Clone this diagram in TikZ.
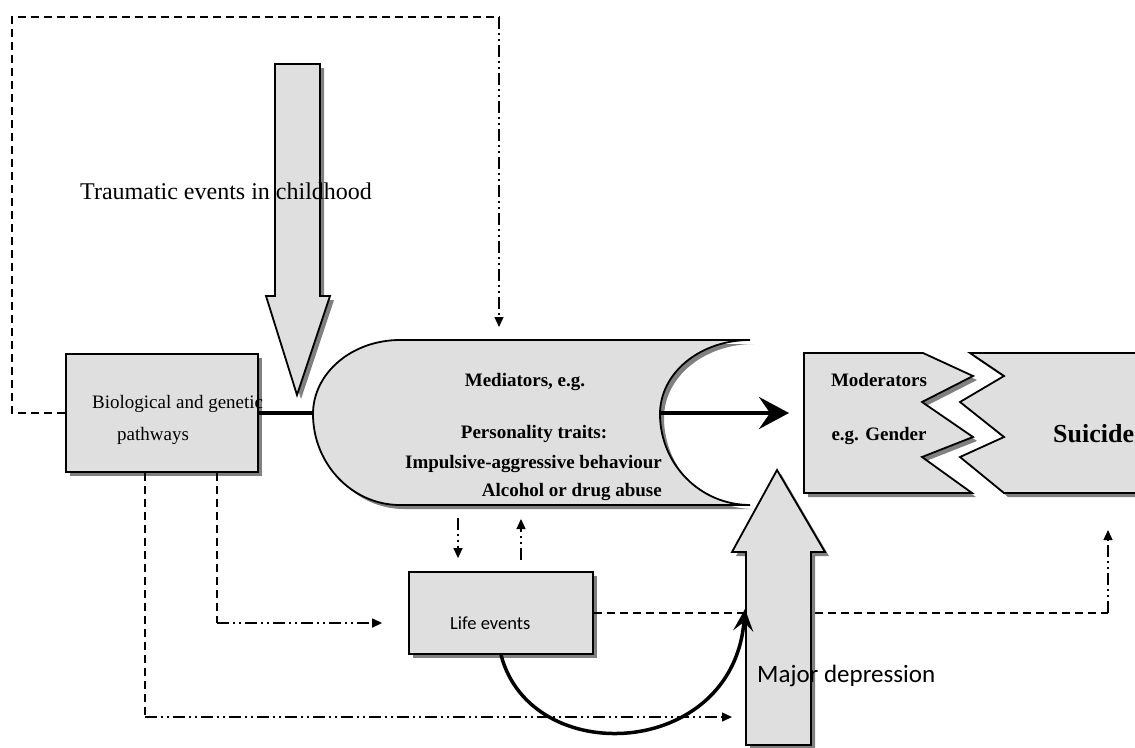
\documentclass[tikz,border=0pt]{standalone}
\usepackage{fontspec}
\setmainfont{Liberation Serif}
\newfontfamily\calibri{Carlito}
\usepackage{tikz}
\usetikzlibrary{arrows.meta}
\usetikzlibrary{shadows}

\begin{document}
\begin{tikzpicture}[x=1pt,y=-1pt,
    solid3d/.style={draw,line width=1.8pt,fill=gray!25,
      drop shadow={shadow xshift=4pt,shadow yshift=-4pt,fill=gray,opacity=1}},
    box/.style={solid3d,inner sep=0pt},
    dashline/.style={line width=1.3pt,dash pattern=on 8pt off 5pt},
    dotline/.style={line width=1.3pt,dash pattern=on 12pt off 4pt on 2pt off 4pt on 2pt off 4pt,
      -{Triangle[length=10pt,width=9pt]}},
    txt/.style={inner sep=0pt,font=\fontsize{19}{22}\selectfont},
    btxt/.style={inner sep=0pt,font=\fontsize{19}{22}\selectfont\bfseries}]
    \useasboundingbox (0,0) rectangle (1135,747);

    \node[box,minimum width=192pt,minimum height=118pt] (bio) at (162,413) {};
    \node[box,minimum width=184pt,minimum height=82pt] (life) at (501,613) {};

    \coordinate (loopL) at (12,17);
    \coordinate (loopR) at (499,17);
    \coordinate (medtop) at (499,327);
    \coordinate (medlft) at (313,413);
    \coordinate (medrgt) at (660,413);
    \coordinate (medL) at (458,505);
    \coordinate (medR) at (521,505);
    \coordinate (modin) at (789,413);
    \coordinate (drop1) at (145,717);
    \coordinate (drop2) at (217,623);
    \coordinate (mdleft) at (732,717);
    \coordinate (mdhit) at (745,609);
    \coordinate (turnR) at (1108,613);
    \coordinate (suiin) at (1108,530);

    \draw[dashline] (bio.west) -| (loopL) -- (loopR);
    \draw[dotline] (loopR) -- (medtop);
    \draw[dashline] (bio.south -| drop1) -- (drop1);
    \draw[dotline] (drop1) -- (mdleft);
    \draw[dashline] (bio.south -| drop2) -- (drop2);
    \draw[dotline,shorten >=26pt] (drop2) -- (drop2 -| life.west);
    \draw[dotline,shorten <=13pt,shorten >=13pt] (medL) -- (medL |- life.north);
    \draw[dotline,shorten <=11pt,shorten >=14pt] (medR |- life.north) -- (medR);
    \draw[dashline] (life.east) -- (turnR);
    \draw[dotline] (turnR) -- (suiin);

    \path[solid3d] (275,64) -- (320,64) -- (320,296) -- (330,296) -- (297,395)
      -- (266,296) -- (275,296) -- cycle;
    \path[solid3d] (400,340) -- (750,340)
      .. controls (700,340) and (660,373) .. (660,414)
      .. controls (660,464) and (700,505) .. (750,505) -- (400,505)
      .. controls (352,505) and (313,464) .. (313,414)
      .. controls (313,373) and (352,340) .. (400,340) -- cycle;
    \path[solid3d] (804,353) -- (923,353) -- (973,376) -- (922,402) -- (973,437)
      -- (922,457) -- (972,493) -- (804,493) -- cycle;
    \path[solid3d] (970,353) -- (1150,353) -- (1150,493) -- (1004,493) -- (960,457)
      -- (1004,437) -- (960,402) -- (1004,376) -- cycle;
    \path[solid3d] (746,745) -- (746,552) -- (732,552) -- (777,470) -- (825,552)
      -- (811,552) -- (811,745) -- cycle;

    \draw[line width=4pt] (bio.east) -- (medlft);
    \draw[line width=4pt,-{Stealth[length=30pt,width=32pt,inset=11pt]}] (medrgt) -- (modin);

    \node[txt,anchor=base west,font=\fontsize{24}{28}\selectfont] (trauma) at (80,199) {Traumatic events in childhood};
    \node[txt,anchor=base west] (bio1) at (92,408) {Biological and genetic};
    \node[txt,anchor=base west] (bio2) at (117,440) {pathways};
    \node[btxt,anchor=base] (med1) at (525,386) {Mediators, e.g.};
    \node[btxt,anchor=base] (med2) at (534,438) {Personality traits:};
    \node[btxt,anchor=base east] (med3) at (662,468) {Impulsive-aggressive behaviour};
    \node[btxt,anchor=base east] (med4) at (662,496) {Alcohol or drug abuse};
    \node[btxt,anchor=base] (mod1) at (879,386) {Moderators};
    \node[btxt,anchor=base] (mod2) at (879,440) {e.g. Gender};
    \node[btxt,anchor=base west,font=\fontsize{26}{30}\selectfont\bfseries] (sui) at (1053,442) {Suicide};
    \node[txt,anchor=base west,font=\fontsize{18.5}{22}\calibri] (lifetxt) at (450,629) {Life events};
    \node[txt,anchor=base west,font=\fontsize{25}{30}\calibri] (major) at (757,682) {Major depression};

    \draw[line width=3.5pt,-{Stealth[length=22pt,width=20pt,inset=9pt]}] (life.south)
      .. controls +(30,115) and +(-12,150) .. (mdhit);
\end{tikzpicture}
\end{document}
